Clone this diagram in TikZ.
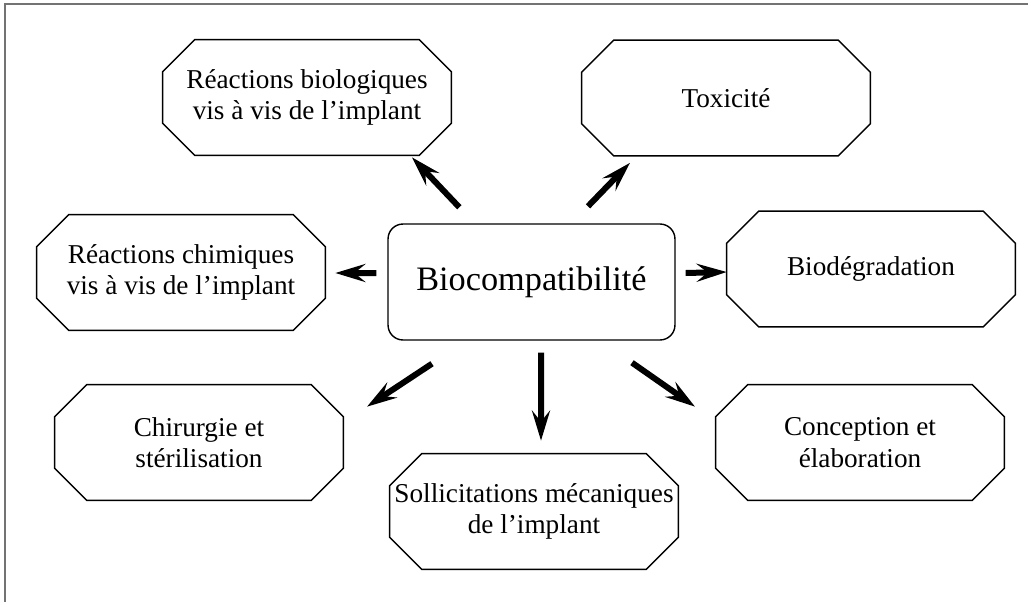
\documentclass[tikz,border=0pt]{standalone}
\usepackage{fontspec}
\setmainfont{Liberation Serif}
\usetikzlibrary{arrows.meta,calc}

\begin{document}
\begin{tikzpicture}[
    x=0.02cm, y=-0.02cm,
    octbox/.style={minimum width=5.76cm, minimum height=2.3cm, inner sep=0pt, align=center, font=\fontsize{15.5}{17.8}\selectfont},
    octline/.style={draw, line width=0.8pt, line join=miter},
    core/.style={draw, line width=0.8pt, rounded corners=0.3cm, minimum width=5.74cm, minimum height=2.32cm, font=\fontsize{19.5}{22}\selectfont},
    arr/.style={line width=0.12cm, -{Stealth[length=0.6cm, width=0.36cm, inset=0.22cm]}}
]
\useasboundingbox (0,0) rectangle (1028,602);

% page frame
\draw[black!55, line width=0.9pt] (5,602) -- (5,4) -- (1028,4);

% central box
\node[core] (bio) at (531.5,282) {Biocompatibilité};

% surrounding boxes
\node[octbox] (reacbio) at (307,97.5) {Réactions biologiques\\vis à vis de l’implant};
\node[octbox] (toxic) at (726,98) {Toxicité};
\node[octbox] (reacchim) at (181,272.5) {Réactions chimiques\\vis à vis de l’implant};
\node[octbox] (biodeg) at (871,269) {Biodégradation};
\node[octbox] (chir) at (199,442.5) {Chirurgie et\\stérilisation};
\node[octbox] (sollic) at (534,511.5) {Sollicitations mécaniques\\de l’implant};
\node[octbox] (concep) at (860,442.5) {Conception et\\élaboration};

% octagon outlines (corners cut off)
\foreach \n in {reacbio,toxic,reacchim,biodeg,chir,sollic,concep}
  \draw[octline] ([xshift=0.64cm]\n.north west) -- ([xshift=-0.64cm]\n.north east)
    -- ([yshift=-0.64cm]\n.north east) -- ([yshift=0.64cm]\n.south east)
    -- ([xshift=-0.64cm]\n.south east) -- ([xshift=0.64cm]\n.south west)
    -- ([yshift=0.64cm]\n.south west) -- ([yshift=-0.64cm]\n.north west) -- cycle;

% arrows out of the central box
\draw[arr] ($(bio.north west)+(72,-16)$) -- ($(reacbio.south)+(105,2)$);
\draw[arr] ($(bio.north)+(56.5,-17)$) -- ($(toxic.south)+(-96,7)$);
\draw[arr] ($(bio.west)+(-11,-9)$) -- ($(reacchim.east)+(10,0.5)$);
\draw[arr] ($(bio.east)+(10,-9)$) -- ($(biodeg.west)+(0,3)$);
\draw[arr] ($(bio.south)+(-99.5,23)$) -- ($(chir.north)+(168,22)$);
\draw[arr] ($(bio.south)+(9.5,12)$) -- ($(sollic.north)+(7,-13)$);
\draw[arr] ($(bio.south)+(100.5,22)$) -- ($(concep.north)+(-165,22)$);
\end{tikzpicture}
\end{document}
